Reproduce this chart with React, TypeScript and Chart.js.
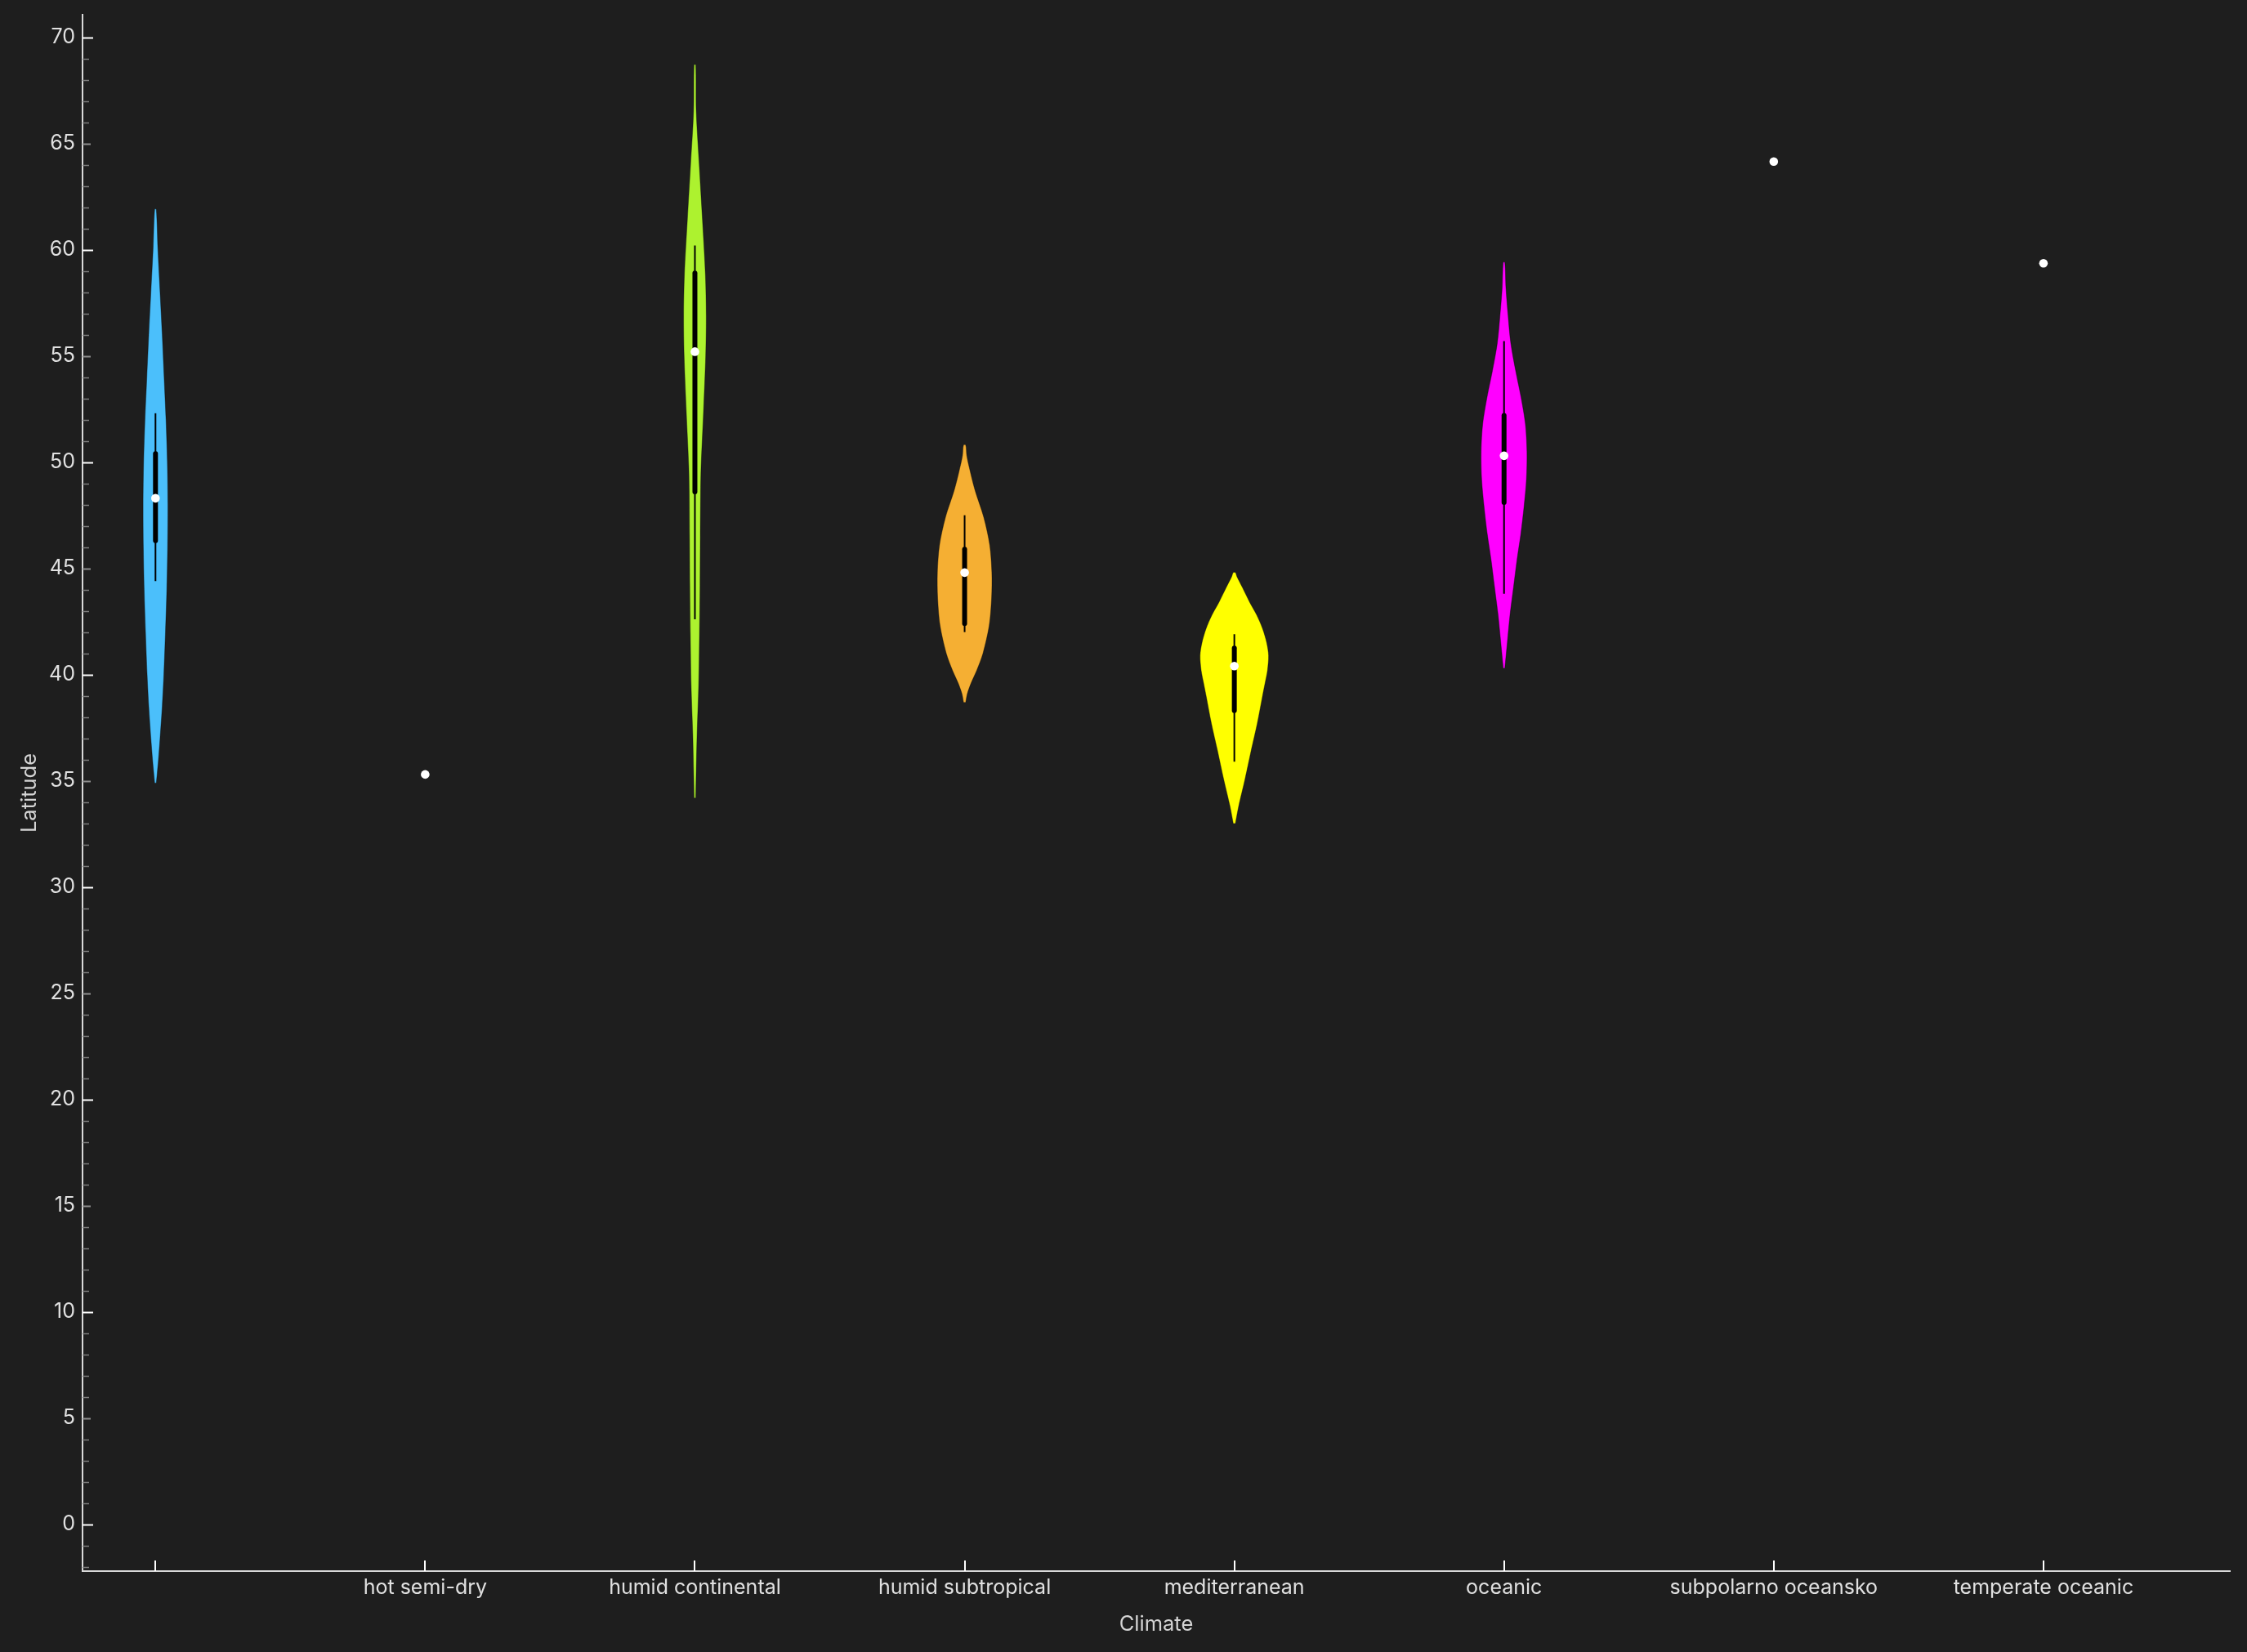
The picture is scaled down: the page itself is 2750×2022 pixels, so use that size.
import React, { useEffect, useRef } from 'react';
import { Chart, registerables } from 'chart.js';

Chart.register(...registerables);

// ---------- data ----------
const categories = [
  '',
  'hot semi-dry',
  'humid continental',
  'humid subtropical',
  'mediterranean',
  'oceanic',
  'subpolarno oceansko',
  'temperate oceanic',
];

const yTickValues = [0, 5, 10, 15, 20, 25, 30, 35, 40, 45, 50, 55, 60, 65, 70];

// Box statistics per category (null = single observation, no box)
const whiskerLow = [44.4, null, 42.6, 42.0, 35.9, 43.8, null, null];
const q1 = [46.3, null, 48.6, 42.4, 38.3, 48.1, null, null];
const median = [48.3, 35.3, 55.2, 44.8, 40.4, 50.3, 64.15, 59.36];
const q3 = [50.4, null, 58.9, 45.9, 41.25, 52.2, null, null];
const whiskerHigh = [52.3, null, 60.2, 47.5, 41.9, 55.7, null, null];

// Violin density outlines: latitude levels and half-width (share of category spacing)
const blueLat = [34.9, 35.3, 36, 37, 38.5, 40, 42, 44, 46, 48, 50, 52, 54, 56, 58, 60, 61.9];
const blueWidth = [0.003, 0.006, 0.011, 0.017, 0.025, 0.031, 0.037, 0.042, 0.045, 0.046, 0.044, 0.039, 0.032, 0.025, 0.017, 0.009, 0.003];

const greenLat = [34.2, 35.5, 37.2, 39.5, 41.9, 44.2, 46.5, 48.5, 49.8, 52.4, 55, 56.9, 58.8, 61.4, 64, 66.5, 68.7];
const greenWidth = [0.003, 0.005, 0.008, 0.014, 0.017, 0.019, 0.02, 0.021, 0.023, 0.032, 0.04, 0.042, 0.039, 0.028, 0.016, 0.005, 0.003];

const orangeLat = [38.7, 39.1, 39.6, 40.2, 41.0, 42.3, 43.6, 44.8, 46.1, 47.4, 48.7, 49.6, 50.3, 50.8];
const orangeWidth = [0.004, 0.01, 0.024, 0.045, 0.068, 0.091, 0.1, 0.101, 0.093, 0.071, 0.038, 0.02, 0.008, 0.004];

const yellowLat = [33.0, 33.8, 35.1, 36.4, 37.7, 38.96, 39.6, 40.2, 40.9, 41.5, 42.15, 42.8, 43.4, 44.1, 44.6, 44.8];
const yellowWidth = [0.004, 0.016, 0.04, 0.062, 0.085, 0.104, 0.114, 0.123, 0.127, 0.12, 0.105, 0.083, 0.057, 0.03, 0.01, 0.004];

const magentaLat = [40.3, 41.5, 42.8, 44.1, 45.4, 46.6, 47.9, 49.2, 50.5, 51.8, 53.05, 54.3, 55.6, 56.9, 58.2, 59.4];
const magentaWidth = [0.003, 0.012, 0.022, 0.035, 0.048, 0.062, 0.074, 0.083, 0.085, 0.079, 0.063, 0.043, 0.025, 0.015, 0.007, 0.003];

const violins = [
  { cat: 0, lat: blueLat, width: blueWidth, color: '#4bbffb' },
  { cat: 2, lat: greenLat, width: greenWidth, color: '#adf22f' },
  { cat: 3, lat: orangeLat, width: orangeWidth, color: '#f5af33' },
  { cat: 4, lat: yellowLat, width: yellowWidth, color: '#ffff00' },
  { cat: 5, lat: magentaLat, width: magentaWidth, color: '#ff00ff' },
];

// ---------- style ----------
const BG = '#1e1e1e';
const AXIS = '#d9d9d9';
const LABEL = '#e0e0e0';
const TITLE = '#d4d4d4';
const FONT = 'Inter, "Liberation Sans", sans-serif';
const W = 2750;
const H = 2022;

const axisTicksPlugin = {
  id: 'axisTicks',
  afterDraw(chart: any) {
    const { ctx, scales } = chart;
    const x = scales.x;
    const y = scales.y;
    const left = chart.chartArea.left;
    const bottom = chart.chartArea.bottom;
    ctx.save();
    const last = yTickValues[yTickValues.length - 1];
    for (let v = Math.ceil(y.min); v <= last; v++) {
      const py = Math.round(y.getPixelForValue(v)) + 0.5;
      let len = 8;
      let color = '#7c7c7c';
      let lw = 1.5;
      if (v % 10 === 0) {
        len = 13; color = '#ffffff'; lw = 2;
      } else if (v % 5 === 0) {
        len = 10; color = '#8e8e8e'; lw = 2;
      }
      ctx.strokeStyle = color;
      ctx.lineWidth = lw;
      ctx.beginPath();
      ctx.moveTo(left, py);
      ctx.lineTo(left + len, py);
      ctx.stroke();
    }
    ctx.strokeStyle = '#ffffff';
    ctx.lineWidth = 2;
    for (let i = 0; i < categories.length; i++) {
      const px = Math.round(x.getPixelForValue(i));
      ctx.beginPath();
      ctx.moveTo(px, bottom);
      ctx.lineTo(px, bottom - 13);
      ctx.stroke();
    }
    ctx.restore();
  },
};

export default function App() {
  const ref = useRef<HTMLCanvasElement | null>(null);

  useEffect(() => {
    if (!ref.current) return;
    const datasets: any[] = [];

    violins.forEach((v) => {
      const pts: { x: number; y: number }[] = [];
      for (let k = 0; k < v.lat.length; k++) pts.push({ x: v.cat + v.width[k], y: v.lat[k] });
      for (let k = v.lat.length - 1; k >= 0; k--) pts.push({ x: v.cat - v.width[k], y: v.lat[k] });
      datasets.push({
        type: 'line',
        data: pts,
        backgroundColor: v.color,
        borderColor: 'rgba(0,0,0,0.35)',
        borderWidth: 1,
        fill: 'shape',
        tension: 0.3,
        pointRadius: 0,
        order: 4,
      });
    });

    categories.forEach((_, i) => {
      if (whiskerLow[i] == null) return;
      datasets.push({
        type: 'line',
        data: [{ x: i, y: whiskerLow[i] }, { x: i, y: whiskerHigh[i] }],
        borderColor: '#000000',
        borderWidth: 2,
        pointRadius: 0,
        fill: false,
        order: 3,
      });
      datasets.push({
        type: 'line',
        data: [{ x: i, y: q1[i] }, { x: i, y: q3[i] }],
        borderColor: '#000000',
        borderWidth: 6,
        borderCapStyle: 'round',
        pointRadius: 0,
        fill: false,
        order: 2,
      });
    });

    datasets.push({
      type: 'line',
      data: median.map((m, i) => ({ x: i, y: m })),
      showLine: false,
      pointRadius: 5.3,
      pointBackgroundColor: '#ffffff',
      pointBorderWidth: 0,
      order: 1,
    });

    const chart = new Chart(ref.current, {
      type: 'line',
      data: { datasets },
      options: {
        animation: false,
        responsive: false,
        devicePixelRatio: 1,
        layout: { padding: { top: 18, right: 21, bottom: 0, left: 0 } },
        plugins: { legend: { display: false }, tooltip: { enabled: false } },
        scales: {
          x: {
            type: 'linear',
            min: -0.2705,
            max: 7.691,
            grid: { drawOnChartArea: false, drawTicks: false },
            border: { display: true, color: AXIS, width: 2 },
            ticks: {
              color: LABEL,
              font: { family: FONT, size: 25 },
              padding: 5,
              autoSkip: false,
              maxRotation: 0,
              callback: (val: any) => categories[Number(val)] ?? '',
            },
            title: {
              display: true,
              text: 'Climate',
              color: TITLE,
              font: { family: FONT, size: 25.5 },
              padding: { top: 0, bottom: 18 },
            },
            afterBuildTicks: (s: any) => {
              s.ticks = categories.map((_, i) => ({ value: i }));
            },
            afterFit: (s: any) => {
              s.height = 99;
              s.paddingLeft = 0;
              s.paddingRight = 0;
            },
          },
          y: {
            type: 'linear',
            min: -2.2,
            max: 71.06,
            grid: { drawOnChartArea: false, drawTicks: false },
            border: { display: true, color: AXIS, width: 2 },
            ticks: {
              color: LABEL,
              font: { family: FONT, size: 25 },
              padding: 9,
              autoSkip: false,
            },
            title: {
              display: true,
              text: 'Latitude',
              color: TITLE,
              font: { family: FONT, size: 25.5 },
              padding: { top: 21, bottom: 0 },
            },
            afterBuildTicks: (s: any) => {
              s.ticks = yTickValues.map((v) => ({ value: v }));
            },
            afterFit: (s: any) => {
              s.width = 101;
              s.paddingTop = 0;
              s.paddingBottom = 0;
            },
          },
        },
      },
      plugins: [axisTicksPlugin],
    } as any);

    return () => chart.destroy();
  }, []);

  return (
    <div style={{ position: 'fixed', left: 0, top: 0, width: W, height: H, background: BG }}>
      <canvas ref={ref} width={W} height={H} style={{ display: 'block', width: W, height: H }} />
    </div>
  );
}
